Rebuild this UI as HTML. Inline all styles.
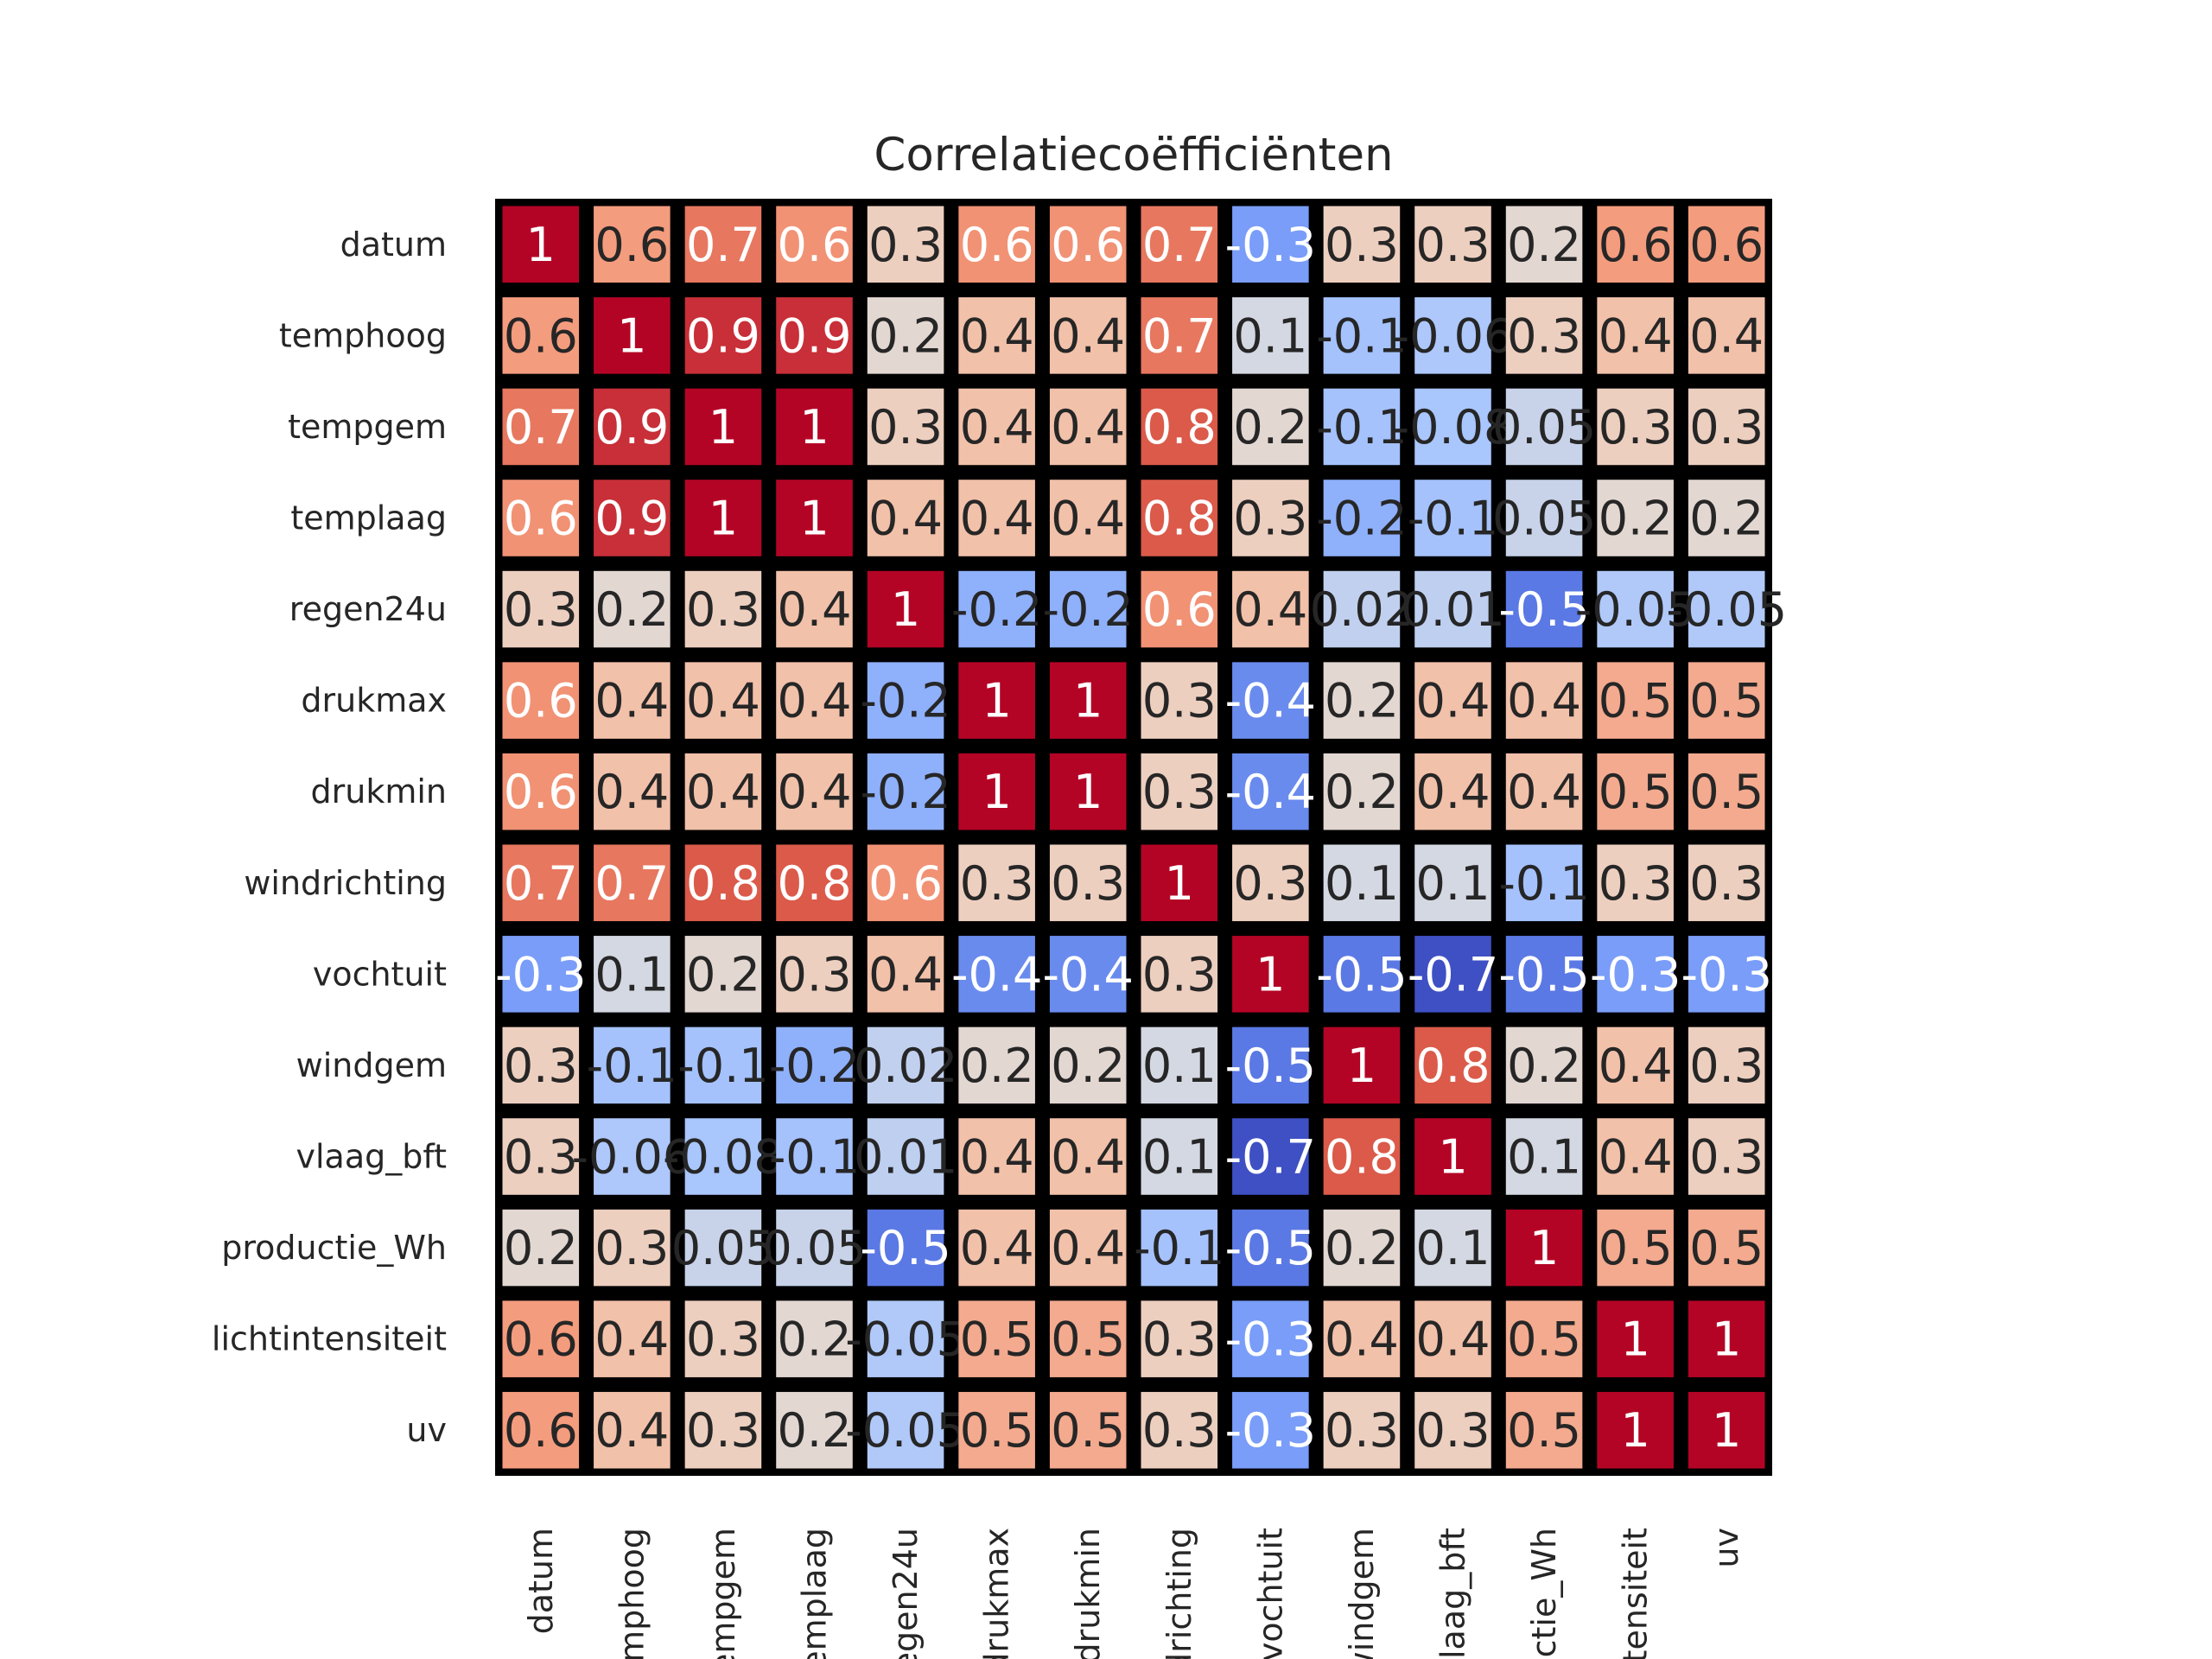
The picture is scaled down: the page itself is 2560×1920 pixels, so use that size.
<!DOCTYPE html>
<html><head><meta charset="utf-8">
<style>html,body{margin:0;padding:0;background:#fff;overflow:hidden;width:2560px;height:1920px;}svg{display:block;}</style>
</head><body>
<svg id="s" width="2560" height="1920" xmlns="http://www.w3.org/2000/svg" font-family="DejaVu Sans, Liberation Sans, sans-serif">
<rect width="2560" height="1920" fill="#fff"/>
<text x="1312" y="197" font-size="53" text-anchor="middle" fill="#262626">Correlatiecoëfficiënten</text>
<rect x="573" y="230" width="1478" height="1478" fill="#000"/>
<g id="g"></g>
</svg>
<script>
var L=["datum","temphoog","tempgem","templaag","regen24u","drukmax","drukmin","windrichting","vochtuit","windgem","vlaag_bft","productie_Wh","lichtintensiteit","uv"];
var M=[
[1,.6,.7,.6,.3,.6,.6,.7,-.3,.3,.3,.2,.6,.6],
[.6,1,.9,.9,.2,.4,.4,.7,.1,-.1,-.06,.3,.4,.4],
[.7,.9,1,1,.3,.4,.4,.8,.2,-.1,-.08,.05,.3,.3],
[.6,.9,1,1,.4,.4,.4,.8,.3,-.2,-.1,.05,.2,.2],
[.3,.2,.3,.4,1,-.2,-.2,.6,.4,.02,.01,-.5,-.05,-.05],
[.6,.4,.4,.4,-.2,1,1,.3,-.4,.2,.4,.4,.5,.5],
[.6,.4,.4,.4,-.2,1,1,.3,-.4,.2,.4,.4,.5,.5],
[.7,.7,.8,.8,.6,.3,.3,1,.3,.1,.1,-.1,.3,.3],
[-.3,.1,.2,.3,.4,-.4,-.4,.3,1,-.5,-.7,-.5,-.3,-.3],
[.3,-.1,-.1,-.2,.02,.2,.2,.1,-.5,1,.8,.2,.4,.3],
[.3,-.06,-.08,-.1,.01,.4,.4,.1,-.7,.8,1,.1,.4,.3],
[.2,.3,.05,.05,-.5,.4,.4,-.1,-.5,.2,.1,1,.5,.5],
[.6,.4,.3,.2,-.05,.5,.5,.3,-.3,.4,.4,.5,1,1],
[.6,.4,.3,.2,-.05,.5,.5,.3,-.3,.3,.3,.5,1,1]];
var DARK={"0,1":1,"1,0":1,"0,12":1,"0,13":1,"12,0":1,"13,0":1};
var C=[[59,76,192],[90,120,228],[123,159,249],[170,199,253],[221,220,220],[242,203,183],[244,154,123],[222,96,77],[180,4,38]];
function cm(t){t=Math.max(0,Math.min(1,t));var p=t*8,i=Math.min(7,Math.floor(p)),f=p-i;var a=C[i],b=C[i+1];return [0,1,2].map(function(k){return Math.round(a[k]+(b[k]-a[k])*f)});}
function lum(c){var r=c.map(function(v){v/=255;return v<=0.03928?v/12.92:Math.pow((v+0.055)/1.055,2.4)});return .2126*r[0]+.7152*r[1]+.0722*r[2];}
var x0=573,y0=230,P=1478/14,I=8.5,h="";
for(var i=0;i<14;i++){for(var j=0;j<14;j++){
 var v=M[i][j],key=i+","+j,c=cm((v+0.72)/1.72);
 if(DARK[key]) c=cm((0.56+0.72)/1.72);
 var x=x0+j*P,y=y0+i*P;
 h+='<rect x="'+(x+I)+'" y="'+(y+I)+'" width="'+(P-2*I)+'" height="'+(P-2*I)+'" fill="rgb('+c.join(',')+')"/>';
 var tc=(DARK[key]||lum(c)>0.408)?"#262626":"#ffffff";
 h+='<text x="'+(x+P/2)+'" y="'+(y+P/2+19)+'" font-size="54" text-anchor="middle" fill="'+tc+'">'+String(v)+'</text>';
}}
for(var i=0;i<14;i++){
 h+='<text x="517" y="'+(y0+i*P+P/2+13)+'" font-size="38" text-anchor="end" fill="#262626">'+L[i]+'</text>';
 var cx=x0+i*P+P/2;
 h+='<text transform="translate('+(cx+13)+',1768) rotate(-90)" font-size="38" text-anchor="end" fill="#262626">'+L[i]+'</text>';
}
document.getElementById("g").innerHTML=h;
</script>
</body></html>
